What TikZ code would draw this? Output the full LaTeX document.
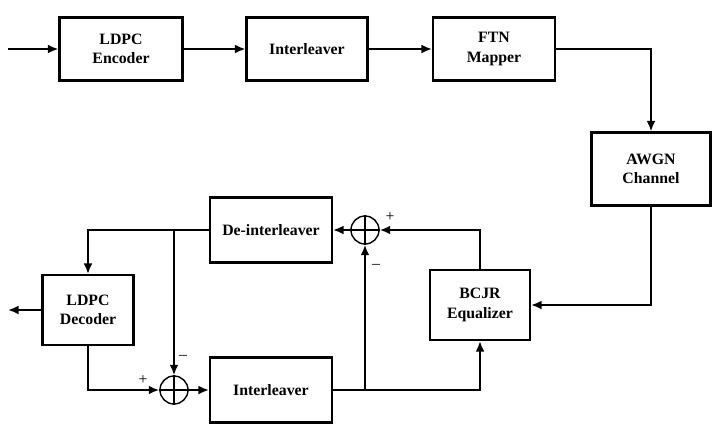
\documentclass[tikz,border=0pt]{standalone}
\usepackage{fontspec}
\setmainfont{Liberation Serif}
\usetikzlibrary{arrows.meta}
\tikzset{
  blk/.style={draw, very thick, align=center, font=\bfseries\small, inner sep=1pt},
  sumc/.style={draw, thick, circle, minimum size=0.56cm, inner sep=0pt},
  line/.style={line width=1.1pt, -{Latex[length=6pt,width=5pt]}},
  sgn/.style={font=\small}
}
\begin{document}
\begin{tikzpicture}[x=0.02cm,y=-0.02cm]
    \useasboundingbox (0,0) rectangle (720,430);
    % Transmitter blocks
    \node[blk, minimum width=2.46cm, minimum height=1.26cm] (enc) at (121,49) {LDPC\\Encoder};
    \node[blk, minimum width=2.42cm, minimum height=1.26cm] (intt) at (307,49) {Interleaver};
    \node[blk, minimum width=2.44cm, minimum height=1.26cm] (ftn) at (494,49) {FTN\\Mapper};
    \node[blk, minimum width=2.38cm, minimum height=1.46cm] (awgn) at (651,169) {AWGN\\Channel};
    % Receiver blocks
    \node[blk, minimum width=2.44cm, minimum height=1.3cm] (deint) at (271,230) {De-interleaver};
    \node[blk, minimum width=2.0cm, minimum height=1.4cm] (bcjr) at (480,305) {BCJR\\Equalizer};
    \node[blk, minimum width=1.82cm, minimum height=1.4cm] (dec) at (88,310) {LDPC\\Decoder};
    \node[blk, minimum width=2.44cm, minimum height=1.3cm] (intb) at (271,390) {Interleaver};
    % Adders
    \node[sumc] (s1) at (365,230) {};
    \draw[thick] (s1.north) -- (s1.south) (s1.west) -- (s1.east);
    \node[sumc] (s2) at (174,390) {};
    \draw[thick] (s2.north) -- (s2.south) (s2.west) -- (s2.east);
    % Coordinates
    \coordinate (in) at (8,49);
    \coordinate (out) at (8,310);
    \coordinate (b1) at (174,230);
    \coordinate (b2) at (365,390);
    % Connectors
    \draw[line] (in) -- (enc);
    \draw[line] (enc) -- (intt);
    \draw[line] (intt) -- (ftn);
    \draw[line] (ftn.east) -| (awgn.north);
    \draw[line] (awgn.south) |- (bcjr.east);
    \draw[line] (bcjr.north) |- (s1.east);
    \draw[line] (s1.west) -- (deint.east);
    \draw[line] (deint.west) -| (dec.north);
    \draw[line] (b1) -- (s2.north);
    \draw[line] (dec.south) |- (s2.west);
    \draw[line] (s2.east) -- (intb.west);
    \draw[line] (intb.east) -| (bcjr.south);
    \draw[line] (b2) -- (s1.south);
    \draw[line] (dec.west) -- (out);
    % Signs
    \node[sgn] at (390,217) {+};
    \node[sgn] at (376,266) {--};
    \node[sgn] at (143,380) {+};
    \node[sgn] at (183,357) {--};
\end{tikzpicture}
\end{document}
